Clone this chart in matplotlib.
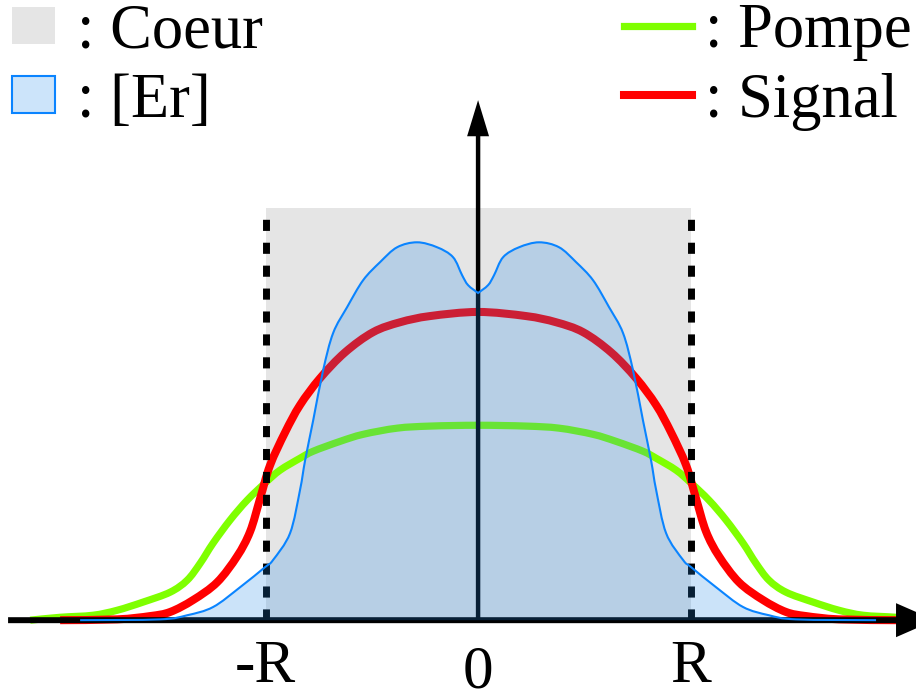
import numpy as np
import matplotlib
matplotlib.use("Agg")
import matplotlib.pyplot as plt
from matplotlib.patches import Patch, PathPatch
from matplotlib.lines import Line2D
from matplotlib.path import Path

plt.rcParams['font.family'] = ['Liberation Serif', 'DejaVu Serif']

# demi-profils (x en unites de R, de l'exterieur vers le centre), symetriques
x_er = [-1.873, -1.496, -1.369, -1.247, -1.120, -1.002, -0.965, -0.885, -0.838, -0.814,
        -0.776, -0.729, -0.682, -0.616, -0.541, -0.461, -0.381, -0.287, -0.193, -0.118,
        -0.075, -0.047, 0.0]
y_er = [0.0, 0.002, 0.012, 0.032, 0.080, 0.129, 0.146, 0.211, 0.316, 0.388,
        0.485, 0.607, 0.697, 0.760, 0.825, 0.869, 0.905, 0.917, 0.905, 0.881,
        0.837, 0.813, 0.794]

x_signal = [-1.967, -1.699, -1.543, -1.449, -1.341, -1.228, -1.134, -1.073, -1.026, -0.979,
            -0.908, -0.838, -0.744, -0.626, -0.494, -0.367, -0.226, 0.0]
y_signal = [0.0, 0.002, 0.010, 0.020, 0.049, 0.092, 0.155, 0.215, 0.295, 0.376,
            0.456, 0.522, 0.587, 0.650, 0.699, 0.723, 0.738, 0.748]

x_pompe = [-2.108, -1.967, -1.812, -1.699, -1.576, -1.449, -1.369, -1.308, -1.247, -1.167,
           -1.087, -1.002, -0.932, -0.838, -0.776, -0.649, -0.541, -0.381, -0.226, 0.0]
y_pompe = [0.0, 0.007, 0.012, 0.024, 0.044, 0.068, 0.097, 0.138, 0.187, 0.243,
           0.291, 0.333, 0.364, 0.393, 0.410, 0.434, 0.451, 0.466, 0.471, 0.473]

R = 1.0
core_top = 1.0
tick_pos = [-R, 0, R]
tick_labels = ['-R', '0', 'R']


def symetrique(xs, ys):
    xs = np.asarray(xs)
    ys = np.asarray(ys)
    return np.concatenate([xs, -xs[-2::-1]]), np.concatenate([ys, ys[-2::-1]])


def bezier(xs, ys, start=True):
    # courbe lisse (Catmull-Rom -> Bezier cubique) passant par les points
    P = np.column_stack([xs, ys])
    n = len(P)
    verts = [P[0]] if start else []
    codes = [Path.MOVETO] if start else []
    for i in range(n - 1):
        p0 = P[max(i - 1, 0)]
        p1 = P[i]
        p2 = P[i + 1]
        p3 = P[min(i + 2, n - 1)]
        verts += [p1 + (p2 - p0) / 6, p2 - (p3 - p1) / 6, p2]
        codes += [Path.CURVE4] * 3
    return verts, codes


def chemin(xs, ys, pointe=False):
    if not pointe:
        xf, yf = symetrique(xs, ys)
        return bezier(xf, yf)
    # creux pointu au centre : deux moities
    v1, c1 = bezier(xs, ys)
    v2, c2 = bezier(-np.asarray(xs)[::-1], np.asarray(ys)[::-1], start=False)
    return v1 + v2, c1 + c2


fig = plt.figure(figsize=(9.16, 6.89), dpi=100)
ax = fig.add_axes([0, 0, 1, 1])
ax.set_xlim(-2.25, 2.061)
ax.set_ylim(-0.167, 1.505)
ax.axis('off')

# coeur
ax.fill_between([-R, R], 0, core_top, color='#e5e5e5', lw=0, zorder=0)
ax.vlines([-R, R], 0, core_top, colors='black', lw=5, linestyles=(0, (1.6, 1.7)), zorder=2)

# pompe et signal
v, c = chemin(x_pompe, y_pompe)
ax.add_patch(PathPatch(Path(v, c), fill=False, edgecolor='#7fff00', lw=5.2,
                       capstyle='butt', zorder=1))
v, c = chemin(x_signal, y_signal)
ax.add_patch(PathPatch(Path(v, c), fill=False, edgecolor='#ff0000', lw=5.8,
                       capstyle='butt', zorder=1.5))

# axes avec fleches
ax.annotate('', xy=(2.15, 0), xytext=(-2.212, 0), annotation_clip=False,
            arrowprops=dict(width=4.3, headwidth=24.5, headlength=28, shrink=0,
                            facecolor='black', edgecolor='none'), zorder=3)
ax.annotate('', xy=(0, 1.262), xytext=(0, 0), annotation_clip=False,
            arrowprops=dict(width=3.2, headwidth=15.8, headlength=26, shrink=0,
                            facecolor='black', edgecolor='none'), zorder=3)

# profil Er (par dessus, transparent)
v, c = chemin(x_er, y_er, pointe=True)
vf = v + [(-x_er[0], 0), (x_er[0], 0), (x_er[0], 0)]
cf = c + [Path.LINETO, Path.LINETO, Path.CLOSEPOLY]
ax.add_patch(PathPatch(Path(vf, cf), facecolor=(33/255, 137/255, 233/255), alpha=0.23,
                       lw=0, zorder=4))
ax.add_patch(PathPatch(Path(v, c), fill=False, edgecolor='#0a84ff', lw=1.5, zorder=5))

for pos, lab in zip(tick_pos, tick_labels):
    yb = -0.163 if lab == '0' else -0.150
    ax.text(pos, yb, lab, ha='center', va='baseline', fontsize=44)

leg1 = ax.legend(handles=[Patch(facecolor='#e5e5e5', edgecolor='none'),
                          Patch(facecolor='#cce4fa', edgecolor='#0a84ff', lw=1.5)],
                 labels=[': Coeur', ': [Er]'], loc='upper left',
                 bbox_to_anchor=(0.013, 0.995), frameon=False, fontsize=45,
                 handlelength=0.69, handleheight=0.55, handletextpad=0.35,
                 labelspacing=0.18, borderpad=0, borderaxespad=0)
ax.add_artist(leg1)
ax.legend(handles=[Line2D([], [], color='#7fff00', lw=5.2),
                   Line2D([], [], color='#ff0000', lw=5.8)],
          labels=[': Pompe', ': Signal'], loc='upper right',
          bbox_to_anchor=(0.995, 0.995), frameon=False, fontsize=45,
          handlelength=1.1, handletextpad=0.2, labelspacing=0.18,
          borderpad=0, borderaxespad=0)

fig.savefig('out.png', dpi=100)
